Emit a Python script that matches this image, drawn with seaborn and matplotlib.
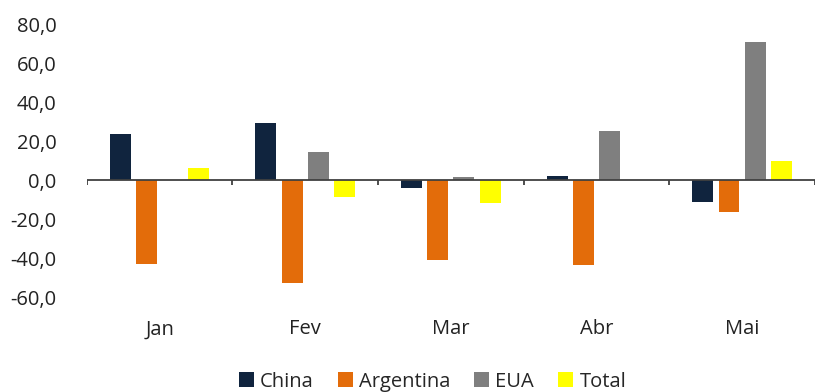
import numpy as np
import pandas as pd
import matplotlib
matplotlib.use("Agg")
import matplotlib.pyplot as plt
import seaborn as sns
from matplotlib.patches import Patch

months = ["Jan", "Fev", "Mar", "Abr", "Mai"]
china = [23.6, 29.2, -3.8, 2.2, -11.1]
argentina = [-43.0, -52.5, -40.8, -43.5, -16.1]
eua = [0.0, 14.5, 1.7, 25.3, 71.1]
total = [6.5, -8.4, -11.5, 0.0, 9.9]
series = ["China", "Argentina", "EUA", "Total"]
colors = ["#10243E", "#E36C0A", "#7F7F7F", "#FFFF00"]
yticks = [-60, -40, -20, 0, 20, 40, 60, 80]

df = pd.DataFrame({
    "mes": months * 4,
    "serie": sum([[s] * len(months) for s in series], []),
    "valor": china + argentina + eua + total,
})

sns.set_theme(style="white")
plt.rcParams["font.family"] = ["Open Sans", "DejaVu Sans"]

fig = plt.figure(figsize=(8.19, 3.92), dpi=100)
ax = fig.add_axes([0.106, 0.242, 0.889, 0.696])

sns.barplot(data=df, x="mes", y="valor", hue="serie", hue_order=series,
            palette=colors, saturation=1, width=0.72, gap=0.2, ax=ax,
            legend=False, edgecolor="none", linewidth=0)

ax.set_ylim(-60, 80)
ax.set_xlim(-0.5, len(months) - 0.5)
ax.set_yticks(yticks)
ax.set_yticklabels([f"{v:.1f}".replace(".", ",") for v in yticks],
                   fontsize=14.5, color="#222222")
ax.set_xticks(range(len(months)))
ax.set_xticklabels(months, fontsize=14.5, color="#222222")
ax.tick_params(axis="x", length=0, pad=16)
ax.tick_params(axis="y", length=0, pad=22)
ax.set_xlabel("")
ax.set_ylabel("")
for sp in ax.spines.values():
    sp.set_visible(False)

# category axis drawn on the zero line, with boundary ticks hanging below
ax.axhline(0, color="#404040", lw=1.3, zorder=3)
for xb in np.arange(-0.5, len(months), 1.0):
    ax.plot([xb, xb], [0, -2.3], color="#404040", lw=1.3, zorder=3,
            solid_capstyle="butt")

handles = [Patch(facecolor=c, edgecolor="none", label=s) for s, c in zip(series, colors)]
fig.legend(handles=handles, loc="lower center", bbox_to_anchor=(0.528, -0.045),
           ncol=4, frameon=False, fontsize=14.5, handlelength=0.75,
           handleheight=0.75, handletextpad=0.3, columnspacing=1.2)

fig.savefig("out.png", dpi=100, facecolor="white")
